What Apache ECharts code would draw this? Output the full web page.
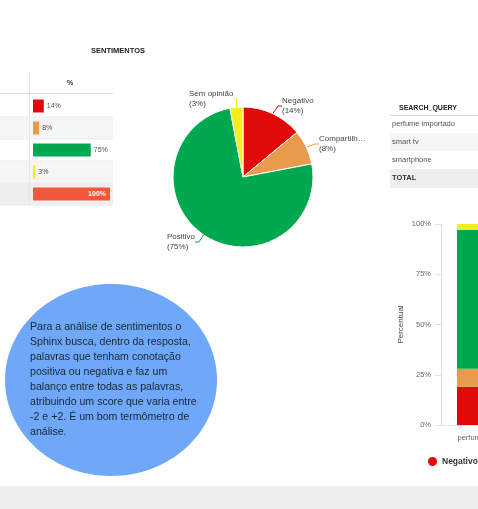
<!DOCTYPE html>
<html><head><meta charset="utf-8">
<script src="https://cdn.jsdelivr.net/npm/echarts@6/dist/echarts.min.js"></script>
<style>html,body{margin:0;padding:0;background:#fff;overflow:hidden;width:478px;height:509px}#c{width:640px;height:509px}</style>
</head><body><div id="c"></div>
<script>
// ---- data ----
const sentimentNames = ['Negativo', 'Compartilh…', 'Positivo', 'Sem opinião'];
const sentimentShare = [14, 8, 75, 3];
const tableRowNames = ['Negativo', 'Compartilh…', 'Positivo', 'Sem opinião', 'Total'];
const tableRowValues = [14, 8, 75, 3, 100];
const queryRows = ['perfume importado', 'smart tv', 'smartphone', 'TOTAL'];
const queryCategories = ['perfume importado'];
const stackNegativo = [19];
const stackCompartilh = [9];
const stackPositivo = [69];
const stackSemOpiniao = [3];
const noteLines = [
  'Para a análise de sentimentos o',
  'Sphinx busca, dentro da resposta,',
  'palavras que tenham conotação',
  'positiva ou negativa e faz um',
  'balanço entre todas as palavras,',
  'atribuindo um score que varia entre',
  '-2 e +2. É um bom termômetro de',
  'análise.'
];

// ---- styles ----
const FONT = 'Arial, "Liberation Sans", sans-serif';
const colors = ['#e00a0a', '#e89b4c', '#00a84f', '#f7ec1c'];
const totalColor = '#f2563b';
const pieLabelPos = [[282, 96], [319, 134], [167, 232], [189, 89]];

const chart = echarts.init(document.getElementById('c'), null, {renderer: 'canvas'});

const g = [];
// bottom band
g.push({type: 'rect', shape: {x: 0, y: 486, width: 640, height: 23}, style: {fill: '#eeeeee'}, z: -1});
// left table
g.push({type: 'text', style: {x: 118, y: 51, text: 'SENTIMENTOS', font: 'bold 7.5px ' + FONT, fill: '#222', textAlign: 'center', textVerticalAlign: 'middle'}});
[[117, '#f5f5f5'], [161, '#f5f5f5'], [183, '#eeeeee']].forEach(function (r) {
  g.push({type: 'rect', shape: {x: 0, y: r[0], width: 113, height: 22}, style: {fill: r[1]}, z: -1});
});
[117, 139, 161, 183, 205].forEach(function (y) {
  g.push({type: 'line', shape: {x1: 0, y1: y, x2: 113, y2: y}, style: {stroke: '#ececec', lineWidth: 1}, z: -1});
});
g.push({type: 'line', shape: {x1: 0, y1: 93.5, x2: 113, y2: 93.5}, style: {stroke: '#dcdcdc', lineWidth: 1}, z: -1});
g.push({type: 'line', shape: {x1: 29.5, y1: 73, x2: 29.5, y2: 205}, style: {stroke: '#e6e6e6', lineWidth: 1}, z: -1});
g.push({type: 'text', style: {x: 70, y: 83, text: '%', font: 'bold 7px ' + FONT, fill: '#333', textAlign: 'center', textVerticalAlign: 'middle'}});
// right table
g.push({type: 'text', style: {x: 428, y: 108, text: 'SEARCH_QUERY', font: 'bold 7px ' + FONT, fill: '#222', textAlign: 'center', textVerticalAlign: 'middle'}});
g.push({type: 'line', shape: {x1: 390, y1: 115.5, x2: 640, y2: 115.5}, style: {stroke: '#dcdcdc', lineWidth: 1}, z: -1});
g.push({type: 'rect', shape: {x: 390, y: 133, width: 250, height: 18}, style: {fill: '#f5f5f5'}, z: -1});
g.push({type: 'rect', shape: {x: 390, y: 169, width: 250, height: 19}, style: {fill: '#eeeeee'}, z: -1});
const qy = [124, 142, 160, 178];
queryRows.forEach(function (t, i) {
  g.push({type: 'text', style: {x: 392, y: qy[i], text: t, font: (i === 3 ? 'bold ' : '') + '7.5px ' + FONT, fill: i === 3 ? '#333' : '#555', textVerticalAlign: 'middle'}});
});
// ellipse note
g.push({type: 'ellipse', shape: {cx: 111, cy: 380, rx: 106, ry: 96}, style: {fill: '#6fa8f8'}, z: 5});
g.push({type: 'text', style: {x: 30, y: 320, text: noteLines.join('\n'), font: '10.6px ' + FONT, lineHeight: 15, fill: '#1a2533', textVerticalAlign: 'top'}, z: 6});

const barSeries = [stackNegativo, stackCompartilh, stackPositivo, stackSemOpiniao].map(function (d, i) {
  return {
    type: 'bar', name: sentimentNames[i], stack: 's', xAxisIndex: 1, yAxisIndex: 1,
    data: d, barWidth: 64, itemStyle: {color: colors[i]}
  };
});

chart.setOption({
  animation: false,
  textStyle: {fontFamily: FONT},
  graphic: {elements: g},
  grid: [
    {left: 33, top: 95, width: 77, height: 110},
    {left: 441, top: 224, width: 96, height: 201}
  ],
  xAxis: [
    {gridIndex: 0, type: 'value', min: 0, max: 100, show: false},
    {gridIndex: 1, type: 'category', data: queryCategories,
      axisLine: {lineStyle: {color: '#e0e0e0'}}, axisTick: {show: false},
      axisLabel: {color: '#666', fontSize: 7.5, margin: 9}}
  ],
  yAxis: [
    {gridIndex: 0, type: 'category', data: tableRowNames, inverse: true, show: false},
    {gridIndex: 1, type: 'value', min: 0, max: 100, interval: 25,
      name: 'Percentual', nameLocation: 'middle', nameGap: 36, nameRotate: 90,
      nameTextStyle: {color: '#444', fontSize: 8},
      axisLine: {show: true, lineStyle: {color: '#e0e0e0'}},
      axisTick: {show: true, length: 6, lineStyle: {color: '#e0e0e0'}},
      splitLine: {show: false},
      axisLabel: {color: '#666', fontSize: 7.5, margin: 10, formatter: '{value}%'}}
  ],
  legend: {
    left: 428, top: 457, padding: 0, width: 600, icon: 'circle', itemWidth: 9, itemHeight: 9, itemGap: 14,
    data: sentimentNames,
    textStyle: {color: '#333', fontSize: 8.5, fontWeight: 'bold'}
  },
  series: [
    {
      type: 'bar', xAxisIndex: 0, yAxisIndex: 0, barWidth: 13,
      data: tableRowValues.map(function (v, i) {
        return {value: v, itemStyle: {color: i < 4 ? colors[i] : totalColor},
          label: i === 4 ? {position: 'insideRight', color: '#fff', fontWeight: 'bold', offset: [-1, 0]} : undefined};
      }),
      label: {show: true, position: 'right', distance: 3, formatter: '{c}%', fontSize: 7, color: '#555'}
    },
    {
      type: 'pie', center: [243, 177], radius: 70, startAngle: 90, clockwise: true,
      legendHoverLink: false,
      data: sentimentShare.map(function (v, i) {
        return {name: sentimentNames[i], value: v, itemStyle: {color: colors[i]}};
      }),
      itemStyle: {borderColor: '#fff', borderWidth: 1},
      label: {show: true, position: 'outside', formatter: '{b}\n({d}%)', fontSize: 8, lineHeight: 10, color: '#444'},
      labelLine: {show: true, length: 6, length2: 4, lineStyle: {width: 1}},
      labelLayout: function (p) {
        const pos = pieLabelPos[p.dataIndex];
        return {x: pos[0], y: pos[1], align: 'left', verticalAlign: 'top'};
      }
    }
  ].concat(barSeries)
});
</script></body></html>
